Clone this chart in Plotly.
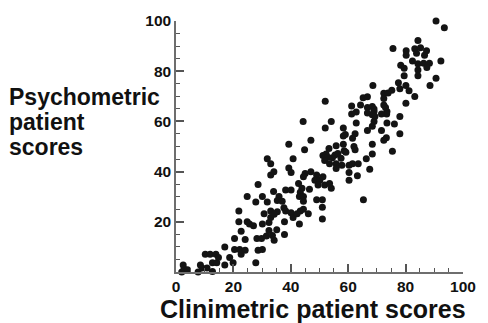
import plotly.graph_objects as go

# Clinimetric (x) vs psychometric (y) patient scores
x_vals = [
    2.0, 2.5, 2.8, 4.0, 7.7, 8.5, 9.1, 10.8, 12.7, 12.7, 14.2, 17.0, 19.9, 27.8,
    10.2, 11.9, 13.9, 14.8, 18.7, 17.0, 20.4, 22.2, 24.1, 22.7, 28.6, 30.1,
    20.4, 24.1, 28.2, 29.8, 31.5, 22.7, 32.4, 21.9, 24.8, 25.6, 27.0, 30.1, 32.4, 33.0,
    21.9, 30.7, 33.0, 24.8, 30.1, 27.8, 31.8, 28.6, 33.0, 34.1, 33.0, 31.8,
    39.3, 44.8, 53.3, 55.8, 58.3, 62.0, 62.4, 58.6,
    51.2, 52.3, 52.9, 51.8, 54.5, 55.4, 56.4, 57.5, 59.2,
    53.5, 55.8, 55.8, 57.8, 60.3, 61.5, 63.5, 66.3, 60.3, 63.2, 60.3,
    40.8, 39.3, 40.1, 45.0, 44.4, 47.0, 49.0, 48.4, 50.1, 51.2, 49.5, 51.8, 54.1, 53.5,
    42.7, 43.9, 43.3, 43.0, 44.4, 44.4, 46.5, 38.2, 40.1, 34.0, 35.9, 35.3, 37.0,
    49.0, 51.0, 51.0, 37.6, 38.2, 35.3, 34.2, 40.1, 40.8, 43.3, 44.4, 46.1, 42.2,
    37.8, 43.0, 51.0, 35.1, 37.8, 33.6, 34.2, 65.3,
    68.4, 75.4, 68.4, 67.5,
    52.0, 61.2, 65.2, 64.3, 62.8, 61.2, 44.3, 54.1, 52.0, 58.3, 59.0, 62.8, 62.4,
    58.3, 61.5, 47.0,
    90.6, 93.5, 84.3, 75.6, 80.2, 83.2, 85.2, 87.3, 80.2, 83.8, 86.6, 82.4, 84.3,
    86.3, 88.3, 87.4, 92.3, 78.3, 79.5, 84.3, 79.5, 84.3, 90.6, 88.5, 77.5, 80.1,
    78.0, 81.2, 75.2, 83.2, 68.6, 72.4, 73.9, 66.7, 72.4, 80.1, 66.7, 68.4, 69.0,
    69.0, 72.4, 73.0, 73.5, 73.4, 68.4, 69.3, 71.6, 66.7, 78.0, 69.0, 76.1, 68.4,
    73.5, 66.7, 71.6, 78.0, 73.3, 72.4,
]
y_vals = [
    0.0, 2.8, 1.2, 0.9, 0.0, 2.8, 1.6, 1.6, 0.2, 3.7, 3.7, 2.8, 3.7, 3.7,
    7.1, 7.1, 7.1, 5.8, 5.8, 10.0, 9.0, 9.0, 8.7, 7.1, 8.7, 9.0,
    13.3, 12.9, 13.3, 13.3, 14.3, 16.2, 16.5, 20.0, 20.0, 19.1, 18.4, 19.1, 19.7, 21.7,
    24.3, 23.2, 24.3, 30.1, 30.1, 27.9, 27.9, 34.9, 38.6, 39.9, 43.1, 45.1,
    50.9, 48.7, 49.2, 50.3, 50.9, 50.0, 48.7, 48.3,
    46.4, 47.0, 45.7, 44.4, 45.5, 46.6, 47.2, 45.3, 47.7,
    43.1, 43.1, 41.2, 42.5, 42.5, 43.1, 43.1, 45.1, 39.6, 38.3, 36.6,
    45.1, 41.4, 39.6, 39.2, 37.9, 39.9, 38.6, 36.6, 36.6, 37.9, 34.7, 34.7, 33.4, 35.3,
    35.3, 33.4, 31.8, 30.1, 30.1, 28.2, 33.0, 32.7, 32.7, 32.1, 30.1, 28.5, 28.2,
    28.8, 28.8, 25.8, 25.6, 24.3, 24.0, 23.0, 23.6, 21.7, 24.3, 25.0, 23.2, 23.2,
    20.0, 19.1, 21.1, 16.8, 14.9, 14.5, 12.6, 28.8,
    50.9, 48.1, 47.0, 40.9,
    68.0, 66.1, 69.4, 66.5, 63.7, 62.9, 60.0, 60.0, 57.4, 57.4, 54.8, 59.4, 55.1,
    54.2, 53.3, 52.5,
    100.0, 97.3, 92.2, 89.0, 88.1, 88.9, 89.3, 88.1, 86.4, 87.2, 86.4, 84.1, 83.0,
    83.2, 83.2, 81.5, 84.1, 82.4, 81.2, 80.5, 78.2, 78.2, 77.2, 74.3, 75.4, 74.3,
    73.0, 72.2, 72.4, 69.9, 74.3, 71.2, 71.3, 69.8, 69.1, 67.2, 65.5, 65.9, 64.9,
    63.9, 66.5, 65.5, 63.9, 62.9, 62.6, 62.0, 62.9, 63.3, 62.0, 60.0, 59.0, 58.1,
    59.4, 56.4, 56.4, 55.1, 53.5, 52.5,
]

x_ticks = [0, 20, 40, 60, 80, 100]
y_ticks = [20, 40, 60, 80, 100]

x_title = "Clinimetric patient scores"
y_title_lines = ["Psychometric", "patient", "scores"]

FONT = "Liberation Sans"

fig = go.Figure()
fig.add_trace(go.Scatter(
    x=x_vals, y=y_vals, mode="markers",
    marker=dict(size=7, color="#141414", line=dict(width=0)),
    cliponaxis=False, hoverinfo="skip",
))

axis_common = dict(
    range=[0, 100], showgrid=False, zeroline=False,
    showline=True, linecolor="#6e6e6e", linewidth=1.5,
    ticks="inside", ticklen=8, tickwidth=1.5, tickcolor="#555555",
    tickfont=dict(family=FONT, size=15.5, color="#111111", weight="bold"),
    minor=dict(dtick=5, tick0=0, ticks="inside", ticklen=4,
               tickwidth=1.2, tickcolor="#555555"),
    fixedrange=True,
)

fig.update_layout(
    width=488, height=323,
    margin=dict(l=176, r=19, t=16, b=51, pad=0),
    paper_bgcolor="white", plot_bgcolor="white",
    showlegend=False,
    xaxis=dict(axis_common, tickmode="array", tickvals=x_ticks),
    yaxis=dict(axis_common, tickmode="array", tickvals=y_ticks),
)

ys = [0.697, 0.598, 0.500]
for line, yp in zip(y_title_lines, ys):
    fig.add_annotation(
        text=line, xref="paper", yref="paper", x=-0.590, y=yp,
        xanchor="left", yanchor="middle", showarrow=False,
        font=dict(family=FONT, size=23, color="#111111", weight="bold"),
    )

fig.add_annotation(
    text=x_title, xref="paper", yref="paper", x=0.476, y=-0.148,
    xanchor="center", yanchor="middle", showarrow=False,
    font=dict(family=FONT, size=25, color="#111111", weight="bold"),
)

fig.write_html(
    "out.html",
    config={"displayModeBar": False},
    post_script="document.body.style.margin='0';document.body.style.overflow='hidden';",
)
